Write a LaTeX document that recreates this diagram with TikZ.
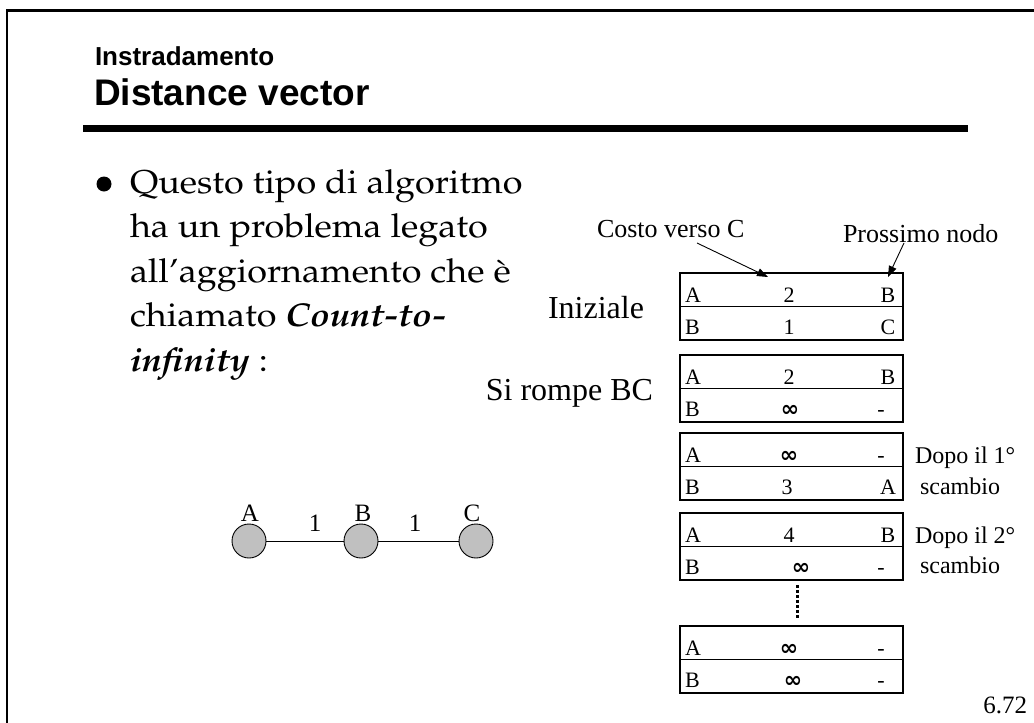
\documentclass[tikz,border=0pt]{standalone}
\usepackage[T1]{fontenc}
\usepackage{graphicx}
\usepackage{fontspec}
\setmainfont{Liberation Serif}
\newfontfamily\hsans{Liberation Sans}
\newfontfamily\symfnt{DejaVu Sans}
\newcommand\palafont{\fontencoding{T1}\fontfamily{ppl}\selectfont}
\newcommand\bodyline[1]{\scalebox{1.09}[1]{#1}}
\newcommand\infsym{{\symfnt\bfseries\fontsize{22}{22}\selectfont ∞}}
\usetikzlibrary{arrows.meta}
\definecolor{nodegray}{RGB}{192,192,192}
\newcommand\dvtab[9]{%
  \node[tabbox] (#1) at (791.5,#2+33.5) {};
  \draw[midline] (#1.west) -- (#1.east);
  \node[cell,anchor=base west] (#1-a) at (685,#2+29.5) {A};
  \node[cell,anchor=base] (#1-ac) at (789,#2+29.5) {#3};
  \node[cell,anchor=base] (#1-an) at (#5,#2+29.5) {#4};
  \node[cell,anchor=base west] (#1-b) at (685,#2+61) {B};
  \node[cell,anchor=base] (#1-bc) at (#7,#2+61) {#6};
  \node[cell,anchor=base] (#1-bn) at (#9,#2+61) {#8};
}
\begin{document}
\begin{tikzpicture}[x=1pt,y=-1pt,
  every node/.style={inner sep=0pt, outer sep=0pt},
  body/.style={anchor=base west, font=\palafont\fontsize{33}{40}\selectfont},
  cell/.style={font=\fontsize{22}{26}\selectfont},
  lbl/.style={font=\fontsize{32}{36}\selectfont},
  note/.style={anchor=base west, font=\fontsize{26}{30}\selectfont},
  side/.style={anchor=base west, font=\fontsize{24}{27}\selectfont},
  tabbox/.style={draw, line width=1.3pt, minimum width=223pt, minimum height=67pt},
  midline/.style={line width=1.3pt},
  netnode/.style={circle, draw, line width=0.9pt, fill=nodegray, minimum size=34pt},
  netlbl/.style={anchor=base, font=\fontsize{25}{28}\selectfont},
  arr/.style={line width=0.9pt, -{Triangle[length=11pt,width=8pt]}}
]
\useasboundingbox (0,0) rectangle (1034,723);
\fill[white] (0,0) rectangle (1034,723);
% frame
\draw[line width=2.6pt, line join=miter] (1040,10.5) -- (7,10.5) -- (7,730);
% heading
\node[anchor=base west, font=\hsans\bfseries\fontsize{26}{30}\selectfont] (sup) at (95,65) {Instradamento};
\node[anchor=base west, font=\hsans\bfseries\fontsize{37}{44}\selectfont] (ttl) at (94,105) {Distance vector};
\draw[line width=6.5pt] (83,128.5) -- (968,128.5);
% bullet text
\node[circle, fill=black, minimum size=15pt] (bul) at (104,184) {};
\node[body] (q1) at (130,193) {\bodyline{Questo tipo di algoritmo}};
\node[body] (q2) at (130,237.5) {\bodyline{ha un problema legato}};
\node[body] (q3) at (130,282) {\bodyline{all'aggiornamento che \`e}};
\node[body] (q4) at (130,326.5) {\bodyline{chiamato \textbf{\textit{Count-to-}}}};
\node[body] (q5) at (130,371) {\bodyline{\textbf{\textit{infinity}} :}};
% network
\node[netnode] (nA) at (249,541) {};
\node[netnode] (nB) at (361,541) {};
\node[netnode] (nC) at (476,541) {};
\draw[line width=0.9pt] (nA) -- (nB);
\draw[line width=0.9pt] (nB) -- (nC);
\node[netlbl] (lA) at (250,521) {A};
\node[netlbl] (l1) at (315,531) {1};
\node[netlbl] (lB) at (363,521) {B};
\node[netlbl] (l2) at (415,531) {1};
\node[netlbl] (lC) at (472,521) {C};
% tables
\dvtab{t1}{273}{2}{B}{888}{1}{789}{C}{888}
\dvtab{t2}{355}{2}{B}{888}{\infsym}{790}{-}{881}
\dvtab{t3}{433}{\infsym}{-}{881}{3}{787}{A}{888}
\dvtab{t4}{513}{4}{B}{888}{\infsym}{801}{-}{881}
\dvtab{t5}{626}{\infsym}{-}{881}{\infsym}{793}{-}{881}
\draw[line width=3pt, dash pattern=on 2.6pt off 2.4pt] (797,585) -- (797,619);
% labels
\node[lbl, anchor=base west] (ini) at (548,318) {Iniziale};
\node[lbl, anchor=base east] (rom) at (653,400) {Si rompe BC};
\node[note] (cvc) at (597,237) {Costo verso C};
\node[note] (pnn) at (843,242) {Prossimo nodo};
\coordinate (cvs) at (697,243);
\coordinate (cvt) at (768,277);
\coordinate (pns) at (904,243);
\coordinate (pnt) at (888,277);
\draw[arr] (cvs) -- (cvt);
\draw[arr] (pns) -- (pnt);
\node[side] (d1) at (915,463) {Dopo il 1°};
\node[side] (s1) at (920,494) {scambio};
\node[side] (d2) at (915,543) {Dopo il 2°};
\node[side] (s2) at (920,573) {scambio};
\node[anchor=base east, font=\fontsize{25}{28}\selectfont] (pg) at (1027,713) {6.72};
\end{tikzpicture}
\end{document}
